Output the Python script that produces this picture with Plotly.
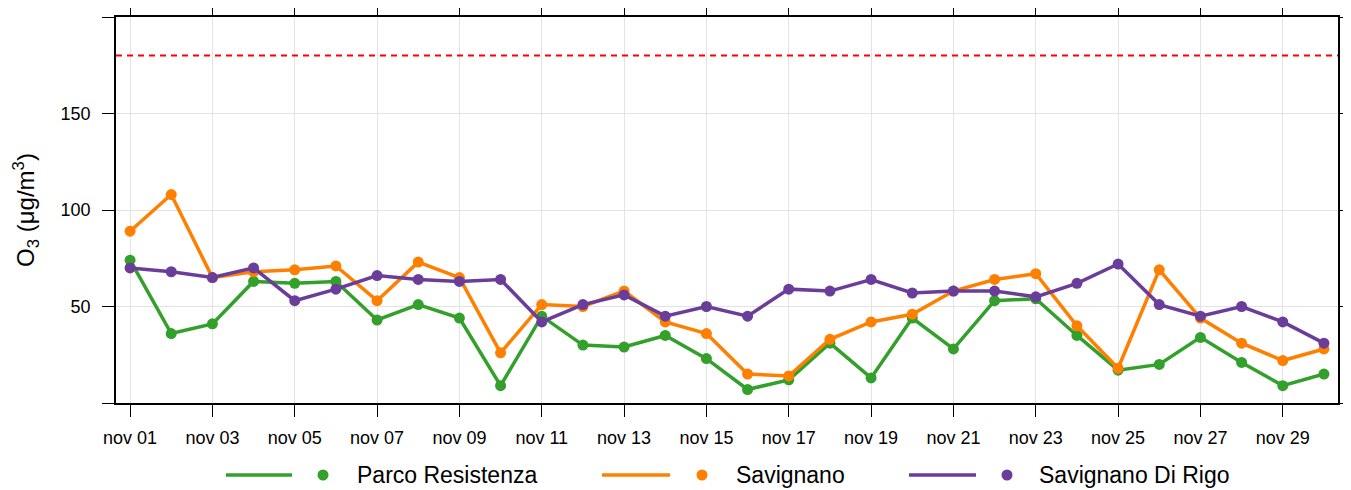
import plotly.graph_objects as go
import pandas as pd

# ---- data ----
days = pd.date_range("2023-11-01", "2023-11-30", freq="D")
parco_resistenza = [74, 36, 41, 63, 62, 63, 43, 51, 44, 9,
                    45, 30, 29, 35, 23, 7, 12, 31, 13, 44,
                    28, 53, 54, 35, 17, 20, 34, 21, 9, 15]
savignano = [89, 108, 65, 68, 69, 71, 53, 73, 65, 26,
             51, 50, 58, 42, 36, 15, 14, 33, 42, 46,
             58, 64, 67, 40, 18, 69, 44, 31, 22, 28]
savignano_di_rigo = [70, 68, 65, 70, 53, 59, 66, 64, 63, 64,
                     42, 51, 56, 45, 50, 45, 59, 58, 64, 57,
                     58, 58, 55, 62, 72, 51, 45, 50, 42, 31]
series_names = ["Parco Resistenza", "Savignano", "Savignano Di Rigo"]
series_values = [parco_resistenza, savignano, savignano_di_rigo]
colors = ["#33a02c", "#ff7f00", "#6a3d9a"]
threshold = 180
x_tick_days = days[::2]
x_tick_labels = ["nov %02d" % d.day for d in x_tick_days]
y_tick_vals = [0, 50, 100, 150, 200]
y_tick_labels = ["", "50", "100", "150", ""]

FONT = "Liberation Sans, Arial, sans-serif"
OFF = 8  # page body margin
W, H = 1351 - OFF, 490 - OFF
ML, MR, MT, MB = 116 - OFF, 13, 17 - OFF, 87
PW, PH = W - ML - MR, H - MT - MB

fig = go.Figure()
for name, vals, col in zip(series_names, series_values, colors):
    fig.add_trace(go.Scatter(
        x=days, y=vals, name=name, mode="lines+markers",
        line=dict(color=col, width=3.5),
        marker=dict(color=col, size=11),
        showlegend=False,
    ))

fig.add_hline(y=threshold, line=dict(color="#ff0000", width=2, dash="6px,5px"))

pad = pd.Timedelta(hours=8.2)
axis_common = dict(
    showline=True, linecolor="black", linewidth=1.5, mirror="ticks",
    ticks="outside", ticklen=12, tickwidth=1.3, tickcolor="black",
    showgrid=True, gridcolor="#e3e3e3", gridwidth=1.3,
    zeroline=False, automargin=False,
    tickfont=dict(family=FONT, size=18, color="black"),
)
fig.update_xaxes(
    range=[days[0] - pad, days[-1] + pad],
    tickmode="array", tickvals=x_tick_days, ticktext=x_tick_labels,
    ticklabelstandoff=6,
    **axis_common,
)
fig.update_yaxes(
    range=[0, 200],
    tickmode="array", tickvals=y_tick_vals, ticktext=y_tick_labels,
    ticklabelstandoff=8,
    title=dict(text="O<sub>3</sub> (μg/m<sup>3</sup>)", standoff=19,
               font=dict(family=FONT, size=24, color="black")),
    **axis_common,
)

# ---- legend drawn below the plot (positions in page pixels) ----
legend_y_px = 475
legend_items = [(226, 292, 323, 355), (602, 670, 702, 734), (909, 976, 1007, 1037)]
def px_x(p):
    return (p - OFF - ML) / PW
def px_y(p):
    return (H - MB - (p - OFF)) / PH
ly = px_y(legend_y_px)
r = 5.5
for (x0, x1, xd, xt), name, col in zip(legend_items, series_names, colors):
    fig.add_shape(type="line", xref="paper", yref="paper",
                  x0=px_x(x0), x1=px_x(x1), y0=ly, y1=ly,
                  line=dict(color=col, width=3.5))
    fig.add_shape(type="circle", xref="paper", yref="paper",
                  x0=px_x(xd - r), x1=px_x(xd + r),
                  y0=px_y(legend_y_px + r), y1=px_y(legend_y_px - r),
                  fillcolor=col, line=dict(color=col, width=0))
    fig.add_annotation(xref="paper", yref="paper", x=px_x(xt), y=ly,
                       text=name, showarrow=False, xanchor="left", yanchor="middle",
                       font=dict(family=FONT, size=23, color="black"))

fig.update_layout(
    width=W, height=H,
    margin=dict(l=ML, r=MR, t=MT, b=MB),
    plot_bgcolor="white", paper_bgcolor="white",
    font=dict(family=FONT, color="black"),
    showlegend=False,
)
fig.write_html("out.html")
